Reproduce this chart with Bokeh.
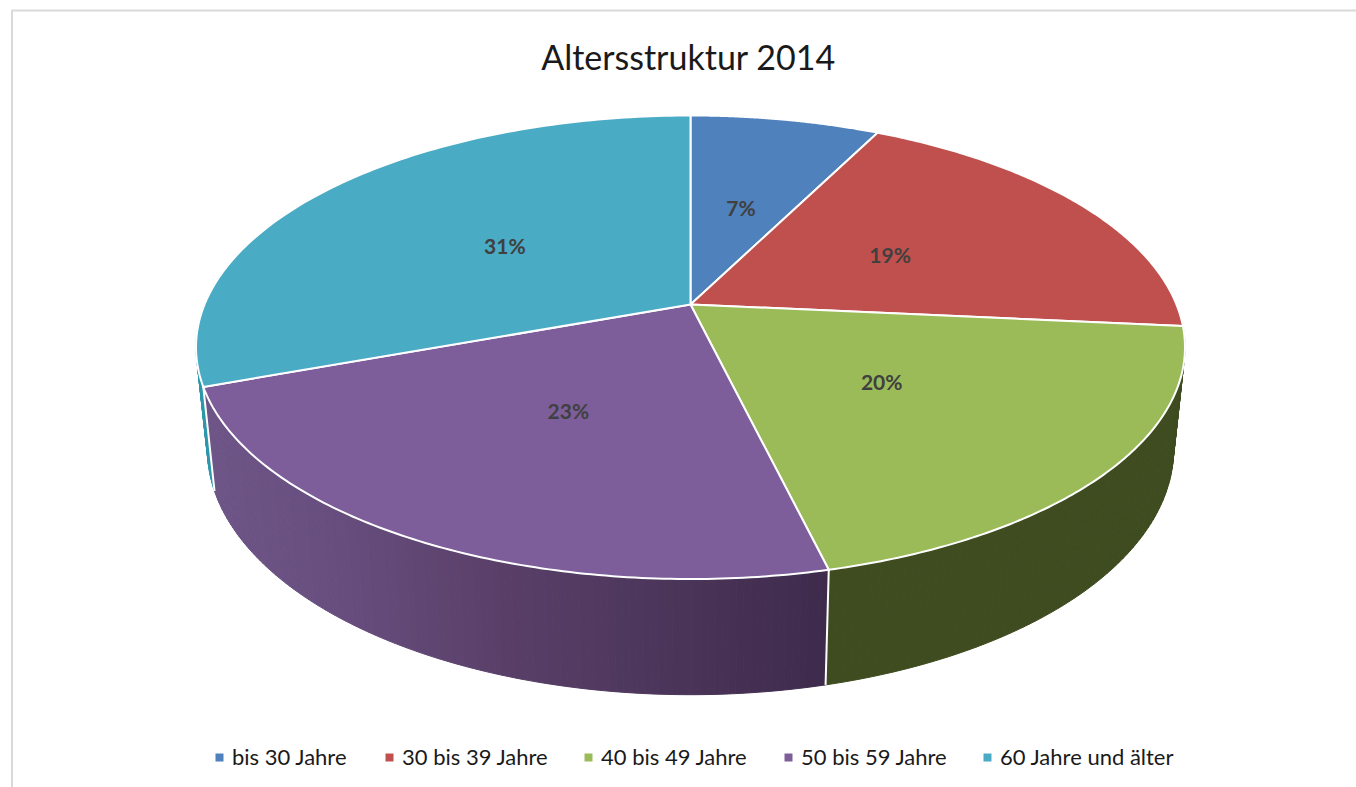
import numpy as np
from bokeh.plotting import figure
from bokeh.core.properties import value
from bokeh.embed import file_html
from bokeh.resources import INLINE

title = "Altersstruktur 2014"
categories = ["bis 30 Jahre", "30 bis 39 Jahre", "40 bis 49 Jahre", "50 bis 59 Jahre", "60 Jahre und älter"]
shares = [7.4, 19.1, 19.75, 23.15, 30.6]
colors = ["#4F81BD", "#C0504D", "#9BBB59", "#7D5E9B", "#4AABC5"]

# screen geometry of the perspective disc (page pixels)
CX, CY, RX, RY, K = 690.0, 304.0, 486.0, 223.9, 0.1845


def rim(theta, r=1.0):
    x, y = r * np.sin(theta), r * np.cos(theta)
    d = 1 + K * y
    return CX + RX * x / d, CY - RY * y / d


def lower(theta):
    x, y = rim(theta)
    return CX + 0.977 * (x - CX), 683 + 1.06 * (y - 568)


def wall_strips(a, b, n):
    t = np.linspace(a, b, n + 1)
    rx, ry = rim(t)
    lx, ly = lower(t)
    xs = [[rx[i], rx[i + 1], lx[i + 1], lx[i]] for i in range(n)]
    ys = [[ry[i], ry[i + 1], ly[i + 1], ly[i]] for i in range(n)]
    return xs, ys, (lx[:-1] + lx[1:]) / 2


p = figure(width=1356, height=787, x_range=(0, 1356), y_range=(787, 0),
           output_backend="svg", toolbar_location=None, min_border=0)
p.axis.visible = False
p.grid.visible = False
p.outline_line_color = None

# chart frame
p.line([11.5, 11.5, 1356], [787, 10, 10], line_color="#D9D9D9", line_width=2)

fractions = np.array(shares) / sum(shares)
edges = np.concatenate([[0], np.cumsum(fractions)]) * 2 * np.pi

# side walls, back to front
xs, ys, _ = wall_strips(edges[4], edges[4] + 0.45, 30)
p.patches(xs, ys, fill_color="#2E97AB", line_color="#2E97AB", line_width=1)

xs, ys, _ = wall_strips(edges[2], edges[3], 80)
p.patches(xs, ys, fill_color="#3F4C20", line_color="#3F4C20", line_width=1)

stop_x = [200, 330, 500, 690, 830]
stop_rgb = np.array([[112, 87, 137], [104, 79, 128], [90, 64, 105], [74, 52, 88], [62, 43, 76]])
xs, ys, mids = wall_strips(edges[3], edges[4], 120)
cs = []
for m in mids:
    rgb = [int(np.interp(m, stop_x, stop_rgb[:, i])) for i in range(3)]
    cs.append("#%02x%02x%02x" % tuple(rgb))
p.patches(xs, ys, fill_color=cs, line_color=cs, line_width=1)

# white edges between the walls
for e in (edges[3], edges[4]):
    rx, ry = rim(np.array([e]))
    lx, ly = lower(np.array([e]))
    p.line([rx[0], lx[0]], [ry[0], ly[0]], line_color="white", line_width=2)

# top faces
for a, b, c in zip(edges[:-1], edges[1:], colors):
    t = np.linspace(a, b, 120)
    x, y = rim(t)
    p.patch(np.r_[CX, x], np.r_[CY, y], fill_color=c, line_color="white", line_width=2,
            line_join="round")

# percentage labels
mid = (edges[:-1] + edges[1:]) / 2
lab_x, lab_y = rim(mid, 0.49)
p.text(lab_x, lab_y - 1 + 2, text=[f"{round(s)}%" for s in shares], text_align="center",
       text_baseline="middle", text_font=value("Lato"), text_font_style="bold",
       text_font_size="21px", text_color="#404040")

# title
p.text([688], [55.5], text=[title], text_align="center", text_baseline="middle",
       text_font=value("Lato"), text_font_size="34px", text_color="#1a1a1a")

# legend
leg_x = [219, 389, 588, 788, 987]
p.scatter(leg_x, [757] * 5, marker="square", size=8, fill_color=colors, line_color=None)
p.text([x + 12.5 for x in leg_x], [755.5] * 5, text=categories, text_align="left",
       text_baseline="middle", text_font=value("Lato"), text_font_size="22px", text_color="#1a1a1a")

open("out.html", "w").write(file_html(p, INLINE))
